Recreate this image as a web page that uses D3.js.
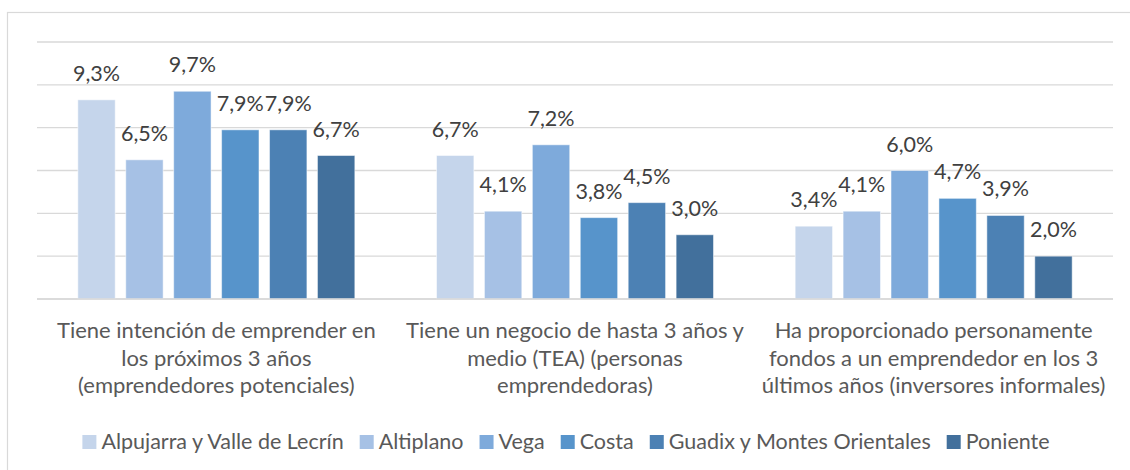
<!DOCTYPE html>
<html>
<head>
<meta charset="utf-8">
<script src="https://cdn.jsdelivr.net/npm/d3@7"></script>
<style>
  html, body { margin: 0; padding: 0; background: #fff; }
  svg { display: block; }
  text { font-family: Lato, "Open Sans", sans-serif; }
</style>
</head>
<body>
<svg id="chart" width="1130" height="470"></svg>
<script>
// Indicator categories (line breaks as shown under each group)
const categories = [
  "Tiene intención de emprender en\nlos próximos 3 años\n(emprendedores potenciales)",
  "Tiene un negocio de hasta 3 años y\nmedio (TEA) (personas\nemprendedoras)",
  "Ha proporcionado personamente\nfondos a un emprendedor en los 3\núltimos años (inversores informales)"
];

// Comarcas (series)
const series = [
  "Alpujarra y Valle de Lecrín",
  "Altiplano",
  "Vega",
  "Costa",
  "Guadix y Montes Orientales",
  "Poniente"
];

// Percent values per series, one entry per category
const alpujarra = [9.3, 6.7, 3.4];
const altiplano = [6.5, 4.1, 4.1];
const vega      = [9.7, 7.2, 6.0];
const costa     = [7.9, 3.8, 4.7];
const guadix    = [7.9, 4.5, 3.9];
const poniente  = [6.7, 3.0, 2.0];
const values = [alpujarra, altiplano, vega, costa, guadix, poniente];

// Value axis gridlines (percent)
const yTicks = [0, 2, 4, 6, 8, 10, 12];

const colors = ["#c5d5eb", "#a6c1e5", "#7eaadb", "#5794cb", "#4c81b4", "#42709c"];

const svg = d3.select("#chart");

// Chart frame
svg.append("rect")
  .attr("x", 7.5).attr("y", 12.5)
  .attr("width", 1140).attr("height", 470)
  .attr("fill", "none").attr("stroke", "#d9d9d9").attr("stroke-width", 1.2);

const plot = { left: 37, right: 1113, top: 42, bottom: 299 };

const x0 = d3.scaleBand().domain(categories).range([plot.left, plot.right]);
const x1 = d3.scaleBand().domain(series).range([-138.5, 138.5]).paddingInner(0.22);
const y = d3.scaleLinear().domain([0, 12]).range([plot.bottom, plot.top]);

// Horizontal gridlines
svg.append("g")
  .selectAll("line")
  .data(yTicks)
  .join("line")
  .attr("x1", plot.left).attr("x2", plot.right)
  .attr("y1", d => y(d)).attr("y2", d => y(d))
  .attr("stroke", "#d9d9d9").attr("stroke-width", 1.3);

// Flatten into bar records
const bars = [];
categories.forEach((c, ci) => {
  series.forEach((s, si) => {
    bars.push({ cat: c, ser: s, si, v: values[si][ci] });
  });
});

const fmt = v => d3.format(".1f")(v).replace(".", ",") + "%";

// Bars
svg.append("g")
  .selectAll("rect")
  .data(bars)
  .join("rect")
  .attr("x", d => x0(d.cat) + x0.bandwidth() / 2 + x1(d.ser))
  .attr("width", x1.bandwidth())
  .attr("y", d => y(d.v))
  .attr("height", d => y(0) - y(d.v))
  .attr("fill", d => colors[d.si])
  .attr("stroke", "rgba(255,255,255,0.5)")
  .attr("stroke-width", 1);

// Baseline redrawn over bars
svg.append("line")
  .attr("x1", plot.left).attr("x2", plot.right)
  .attr("y1", y(0)).attr("y2", y(0))
  .attr("stroke", "#d9d9d9").attr("stroke-width", 1.5);

// Data labels
svg.append("g")
  .selectAll("text")
  .data(bars)
  .join("text")
  .attr("x", d => x0(d.cat) + x0.bandwidth() / 2 + x1(d.ser) + x1.bandwidth() / 2)
  .attr("y", d => y(d.v) - 19)
  .attr("text-anchor", "middle")
  .attr("font-size", 21.5)
  .attr("fill", "#404040")
  .text(d => fmt(d.v));

// Category labels
const catG = svg.append("g");
categories.forEach(c => {
  const t = catG.append("text")
    .attr("text-anchor", "middle")
    .attr("font-size", 22)
    .attr("fill", "#595959");
  c.split("\n").forEach((line, i) => {
    t.append("tspan")
      .attr("x", x0(c) + x0.bandwidth() / 2)
      .attr("y", 338 + i * 27.5)
      .text(line);
  });
});

// Legend, centred under the plot
const legend = svg.append("g");
const items = legend.selectAll("g")
  .data(series)
  .join("g");
items.append("rect")
  .attr("width", 14).attr("height", 14)
  .attr("y", 435)
  .attr("fill", (d, i) => colors[i]);
items.append("text")
  .attr("x", 19)
  .attr("y", 449)
  .attr("font-size", 21.5)
  .attr("fill", "#595959")
  .text(d => d);

let cursor = 0;
const widths = [];
items.each(function (d, i) {
  const w = 19 + d3.select(this).select("text").node().getComputedTextLength();
  widths.push(w);
});
const gap = 16;
const total = d3.sum(widths) + gap * (widths.length - 1);
cursor = 566 - total / 2;
items.attr("transform", (d, i) => {
  const tx = cursor;
  cursor += widths[i] + gap;
  return `translate(${tx},0)`;
});
</script>
</body>
</html>
